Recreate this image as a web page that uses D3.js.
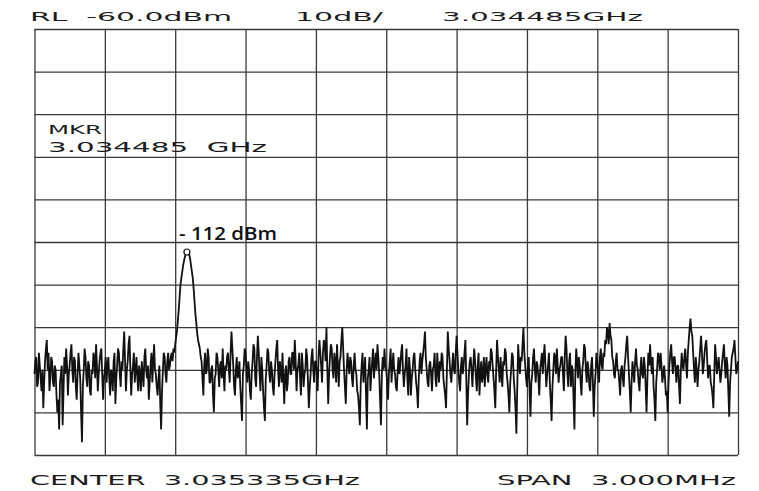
<!DOCTYPE html>
<html>
<head>
<meta charset="utf-8">
<script src="https://cdn.jsdelivr.net/npm/d3@7/dist/d3.min.js"></script>
<style>
  html, body { margin: 0; padding: 0; background: #ffffff; }
  svg { display: block; }
  .plot-text { font-family: "DejaVu Sans", sans-serif; fill: #1c1c1c; white-space: pre; }
</style>
</head>
<body>
<svg id="chart" width="759" height="491"></svg>
<script>
// ---------------- data ----------------
const centerGHz = 3.035335;
const spanMHz = 3.0;
const refLevel = -60;          // dBm, top of the screen
const dbPerDiv = 10;
const divisions = 10;
const markerGHz = 3.034485;
const markerLevel = -112;      // dBm

const headerLabels = ["RL  -60.0dBm", "10dB/", "3.034485GHz"];
const markerLabels = ["MKR", "3.034485  GHz"];
const footerLabels = ["CENTER  3.035335GHz", "SPAN  3.000MHz"];
const peakLabel = "- 112 dBm";

// trace amplitude (dBm), 801 sweep points across the span
const traceDbm = [
  -141,-138,-137,-144,-143,-136,-139,-142,-145,-140,-149,-143,-138,-135,-133,-140,-136,-145,-142,-137,-138,-143,-144,-139,-140,-146,-150,-147,-154,-143,-141,-139,-153,-145,-137,-141,-135,-139,-146,-141,
  -139,-136,-134,-140,-143,-137,-138,-144,-147,-141,-136,-139,-142,-150,-157,-144,-140,-135,-137,-142,-144,-138,-139,-145,-146,-140,-141,-136,-137,-142,-134,-139,-145,-141,-138,-136,-135,-141,-147,-142,
  -140,-137,-143,-139,-137,-142,-146,-140,-141,-145,-138,-136,-148,-142,-139,-135,-136,-141,-144,-138,-140,-135,-131,-138,-145,-140,-138,-134,-132,-140,-146,-141,-139,-136,-143,-140,-137,-142,-145,-139,
  -141,-145,-138,-141,-144,-137,-135,-140,-142,-139,-147,-143,-139,-136,-143,-138,-134,-140,-141,-144,-146,-142,-139,-148,-154,-145,-140,-136,-137,-141,-143,-138,-136,-140,-139,-137,-136,-138,-135,-136,
  -134,-132.5,-131,-128.5,-126,-123,-120,-118.5,-117,-115.5,-114.5,-113.5,-112.8,-112.3,-112,-112.4,-113,-114,-115.5,-117,-118.5,-121,-124,-127,-129,-131.5,-133,-134,-135,-137,-138,-142,-146,-139,-136,-141,-140,-135,-137,-143,
  -143,-140,-139,-146,-150,-142,-141,-136,-137,-140,-144,-139,-138,-142,-135,-141,-145,-139,-140,-137,-136,-140,-143,-136,-131,-135,-139,-144,-146,-140,-137,-142,-141,-138,-144,-148,-152,-141,-139,-135,
  -136,-140,-143,-138,-140,-145,-147,-141,-138,-134,-135,-142,-144,-137,-132,-136,-141,-145,-137,-140,-145,-149,-152,-142,-139,-135,-136,-141,-143,-138,-140,-144,-146,-141,-138,-135,-133,-140,-144,-138,
  -140,-143,-136,-142,-148,-141,-139,-145,-143,-138,-137,-141,-141,-136,-136,-140,-133,-138,-145,-140,-139,-136,-142,-146,-136,-139,-144,-141,-140,-135,-137,-143,-149,-144,-141,-137,-135,-140,-143,-138,
  -138,-141,-145,-137,-133,-136,-139,-143,-136,-133,-134,-138,-130,-140,-148,-141,-137,-134,-135,-140,-142,-136,-138,-143,-134,-139,-144,-138,-137,-133,-130,-135,-140,-144,-148,-140,-136,-139,-141,-137,
  -138,-142,-144,-139,-136,-140,-141,-145,-146,-149,-153,-143,-139,-136,-143,-140,-137,-146,-154,-142,-140,-137,-145,-141,-138,-135,-142,-139,-136,-140,-134,-137,-141,-147,-153,-141,-137,-140,-135,-139,
  -140,-143,-147,-141,-138,-135,-143,-139,-136,-140,-141,-144,-145,-140,-137,-141,-139,-136,-134,-140,-144,-141,-139,-135,-142,-146,-137,-140,-146,-142,-140,-137,-136,-140,-143,-145,-149,-142,-138,-136,
  -141,-138,-136,-134,-131,-137,-140,-143,-144,-139,-138,-141,-145,-140,-139,-136,-142,-144,-136,-140,-143,-138,-140,-136,-137,-142,-144,-146,-149,-140,-131,-135,-138,-141,-143,-139,-136,-140,-141,-136,
  -132,-136,-140,-143,-145,-139,-137,-141,-139,-136,-133,-142,-153,-146,-141,-138,-137,-140,-144,-139,-135,-138,-142,-145,-139,-136,-146,-141,-138,-143,-141,-137,-144,-140,-137,-141,-143,-138,-140,-135,
  -136,-139,-142,-145,-149,-140,-133,-137,-140,-143,-137,-141,-144,-138,-139,-135,-136,-141,-143,-146,-150,-143,-140,-136,-137,-142,-145,-149,-155,-144,-134,-138,-141,-137,-138,-134,-130,-136,-139,-142,
  -144,-140,-137,-145,-151,-143,-141,-137,-135,-140,-143,-138,-139,-142,-146,-140,-138,-136,-141,-137,-134,-139,-144,-141,-139,-136,-143,-147,-152,-144,-140,-136,-137,-141,-135,-139,-143,-140,-139,-137,
  -137,-141,-145,-137,-132,-135,-141,-144,-138,-136,-144,-139,-140,-147,-154,-141,-135,-138,-142,-137,-139,-143,-146,-140,-138,-134,-135,-140,-143,-138,-140,-144,-145,-139,-137,-143,-151,-144,-141,-136,
  -138,-141,-143,-137,-135,-139,-140,-136,-137,-133,-134,-130,-131,-134,-129,-132,-133,-137,-138,-141,-142,-138,-136,-140,-140,-143,-146,-140,-139,-142,-144,-139,-137,-134,-132,-137,-141,-145,-150,-143,
  -138,-140,-143,-138,-135,-139,-140,-143,-145,-140,-137,-141,-142,-137,-139,-144,-150,-142,-136,-139,-134,-138,-141,-137,-144,-147,-152,-143,-140,-136,-137,-140,-136,-139,-143,-141,-139,-142,-146,-145,
  -150,-143,-139,-136,-134,-138,-141,-137,-137,-140,-143,-139,-139,-144,-148,-140,-136,-139,-140,-137,-135,-139,-142,-136,-133,-130,-128,-131,-132,-136,-140,-143,-137,-140,-144,-140,-138,-135,-132,-136,
  -141,-139,-136,-134,-133,-138,-142,-139,-139,-143,-144,-146,-149,-141,-134,-137,-141,-139,-137,-140,-143,-141,-138,-136,-134,-139,-142,-137,-139,-145,-151,-143,-140,-137,-136,-135,-133,-137,-141,-140,
  -138
];

// ---------------- layout ----------------
const svg = d3.select("#chart");
const plot = { left: 34.5, right: 738, top: 29, bottom: 455 };

const startGHz = centerGHz - spanMHz / 2000;
const stopGHz = centerGHz + spanMHz / 2000;
const bottomLevel = refLevel - dbPerDiv * divisions;

const x = d3.scaleLinear().domain([startGHz, stopGHz]).range([plot.left, plot.right]);
const y = d3.scaleLinear().domain([bottomLevel, refLevel]).range([plot.bottom, plot.top]);

const xGrid = d3.range(divisions + 1).map(i => startGHz + i * (stopGHz - startGHz) / divisions);
const yGrid = d3.range(divisions + 1).map(i => bottomLevel + i * dbPerDiv);

const gridColor = "#3a3a3a";

// vertical grid lines
svg.append("g")
  .attr("transform", `translate(0,${plot.bottom})`)
  .call(d3.axisBottom(x).tickValues(xGrid).tickSize(-(plot.bottom - plot.top)).tickFormat(""))
  .call(g => g.select(".domain").remove())
  .call(g => g.selectAll(".tick line").attr("stroke", gridColor).attr("stroke-width", 1.3));

// horizontal grid lines
svg.append("g")
  .attr("transform", `translate(${plot.left},0)`)
  .call(d3.axisLeft(y).tickValues(yGrid).tickSize(-(plot.right - plot.left)).tickFormat(""))
  .call(g => g.select(".domain").remove())
  .call(g => g.selectAll(".tick line").attr("stroke", gridColor).attr("stroke-width", 1.3));

// trace
const step = (stopGHz - startGHz) / (traceDbm.length - 1);
const line = d3.line()
  .x((d, i) => x(startGHz + i * step))
  .y(d => y(d));

svg.append("path")
  .datum(traceDbm)
  .attr("d", line)
  .attr("fill", "none")
  .attr("stroke", "#111")
  .attr("stroke-width", 1.8)
  .attr("stroke-linejoin", "bevel");

// marker
svg.append("circle")
  .attr("cx", x(markerGHz))
  .attr("cy", y(markerLevel) + 1.5)
  .attr("r", 3)
  .attr("fill", "#fff")
  .attr("stroke", "#111")
  .attr("stroke-width", 1.2);

// ---------------- text ----------------
function stretchedText(str, x0, x1, baseline, size) {
  svg.append("text")
    .attr("class", "plot-text")
    .attr("xml:space", "preserve")
    .attr("x", x0)
    .attr("y", baseline)
    .attr("font-size", size)
    .attr("textLength", x1 - x0)
    .attr("lengthAdjust", "spacingAndGlyphs")
    .text(str);
}

stretchedText(headerLabels[0], 30, 232, 21, 12.5);
stretchedText(headerLabels[1], 295, 383, 21, 12.5);
stretchedText(headerLabels[2], 442, 643, 21, 12.5);

stretchedText(markerLabels[0], 48, 102, 134, 12);
stretchedText(markerLabels[1], 48, 267, 152, 14);

stretchedText(footerLabels[0], 30, 360, 484.5, 13.5);
stretchedText(footerLabels[1], 497, 736, 484.5, 13.5);

svg.append("text")
  .attr("x", 179)
  .attr("y", 239.5)
  .attr("font-family", "'Open Sans', sans-serif")
  .attr("font-size", 18.5)
  .attr("font-weight", 600)
  .attr("fill", "#111")
  .attr("textLength", 98)
  .attr("lengthAdjust", "spacingAndGlyphs")
  .text(peakLabel);
</script>
</body>
</html>
